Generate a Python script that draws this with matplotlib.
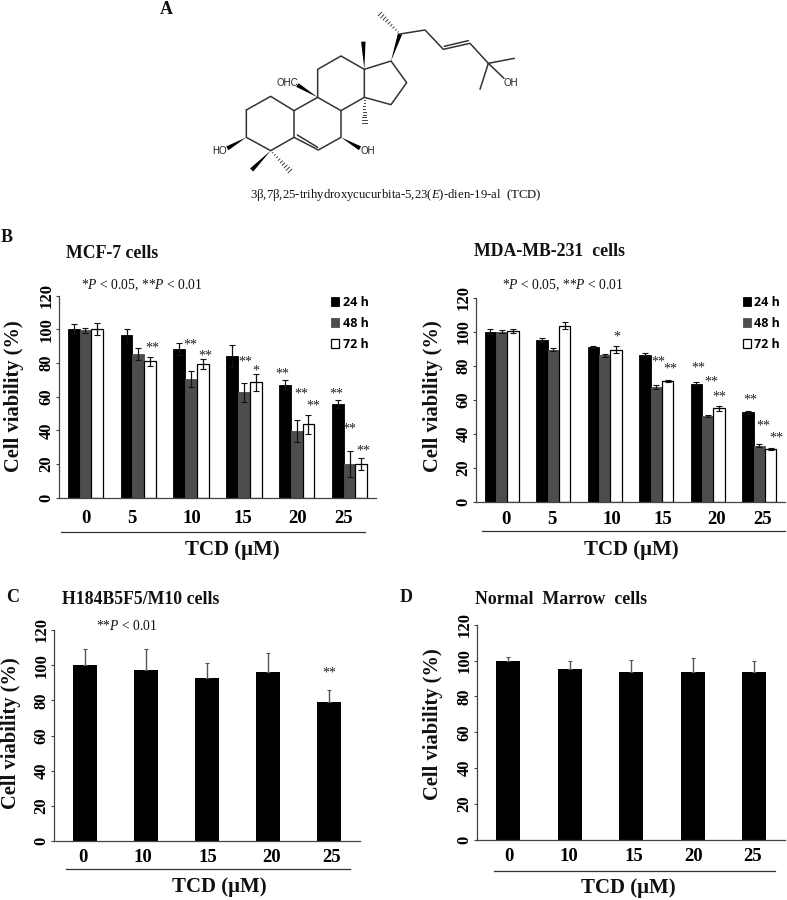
import numpy as np
import matplotlib
matplotlib.use("Agg")
import matplotlib.pyplot as plt
from matplotlib.patches import Polygon

plt.rcParams['font.family'] = ['Liberation Serif', 'DejaVu Serif']
plt.rcParams['mathtext.fontset'] = 'custom'
plt.rcParams['mathtext.rm'] = 'Liberation Serif'
plt.rcParams['mathtext.it'] = 'Liberation Serif:italic'

W, H = 787, 900

# panel B, MCF-7
mcf_24 = [100, 96.5, 88.5, 84, 67, 55.5]
mcf_48 = [99.5, 85.5, 70.5, 62.5, 39.5, 20]
mcf_72 = [100, 81, 79.5, 68.5, 43.5, 20]
mcf_24_err = [3, 4, 3.5, 6.5, 3, 2.5]
mcf_48_err = [1.5, 3.5, 4.5, 5.5, 6.5, 8]
mcf_72_err = [3.5, 2.5, 3, 5, 5.5, 3.5]
mcf_labels = ['0', '5', '10', '15', '20', '25']
mcf_label_x = [0.01, 0.88, 2.02, 2.98, 4.02, 4.89]
mcf_star_x = [1.27, 1.99, 2.27, 3.02, 3.23, 3.72, 4.08, 4.31, 4.74, 5.0, 5.26]
mcf_star_y = [89.7, 91.7, 85, 81.8, 76.2, 74.3, 62.6, 55.4, 62.6, 41.8, 28.7]
mcf_stars = ['**', '**', '**', '**', '*', '**', '**', '**', '**', '**', '**']

# panel B, MDA-MB-231
mda_24 = [100, 95, 91, 86.5, 69.5, 52.5]
mda_48 = [100, 89.5, 86, 67.5, 50.3, 33]
mda_72 = [100.3, 103.5, 89.5, 71.2, 55, 31]
mda_24_err = [1.5, 1, 0.3, 1, 1, 1]
mda_48_err = [1, 1, 1, 1, 0.5, 1]
mda_72_err = [1, 2, 2, 0.5, 1.5, 0.7]
mda_label_x = [0.08, 0.98, 2.14, 3.13, 4.18, 5.07]
mda_star_x = [2.24, 3.04, 3.27, 3.81, 4.06, 4.22, 4.82, 5.07, 5.34]
mda_star_y = [98, 83.3, 79, 79.8, 71.2, 62.4, 60.8, 45.7, 38.2]
mda_stars = ['*', '**', '**', '**', '**', '**', '**', '**', '**']

# panels C and D
short_labels = ['0', '10', '15', '20', '25']
h184_vals = [100, 97.5, 92.5, 96, 79]
h184_err = [9, 11.5, 8.5, 11, 7]
h184_label_x = [-0.03, 0.95, 2.02, 3.06, 4.04]
marrow_vals = [100, 95, 93.5, 93.5, 93.5]
marrow_err = [2, 5, 7, 8, 6]
marrow_label_x = [0.02, 0.99, 2.05, 3.01, 3.98]

fig = plt.figure(figsize=(W / 100, H / 100), dpi=100)

# overlay in pixel coordinates for free text, rules and the structure
bg = fig.add_axes([0, 0, 1, 1])
bg.set_xlim(0, W)
bg.set_ylim(H, 0)
bg.axis('off')


def make_axes(left, right, top, bottom, xpad):
    ax = fig.add_axes([left / W, 1 - bottom / H, (right - left) / W, (bottom - top) / H])
    ax.patch.set_alpha(0)
    ax.set_ylim(0, 120)
    ax.set_yticks(range(0, 121, 20))
    for s in ['top', 'right']:
        ax.spines[s].set_visible(False)
    for s in ['left', 'bottom']:
        ax.spines[s].set_color('#444444')
        ax.spines[s].set_linewidth(0.9)
    ax.tick_params(axis='y', length=2.5, width=0.8, color='#444444', pad=0.8, labelsize=12)
    ax.tick_params(axis='x', length=0, pad=xpad, labelsize=13.5)
    for t in ax.get_yticklabels():
        t.set_rotation(90)
        t.set_va('center')
        t.set_fontweight('bold')
    return ax


def star(ax, x, y, s):
    ax.annotate(s, (x, y), xytext=(0, -1.2), textcoords='offset points', ha='center', va='center',
                fontsize=10, color='#222222', annotation_clip=False)


def grouped(ax, s24, s48, s72, e24, e48, e72, labels, label_x, sx, sy, st, leg_x):
    ax.set_xlim(-0.5, 5.5)
    w = 0.222
    x = np.arange(len(s24))
    kw = dict(capsize=2.2, error_kw=dict(elinewidth=0.9, capthick=0.8, ecolor='#111111'))
    ax.bar(x - w, s24, w, yerr=e24, color='black', edgecolor='black', linewidth=0.6, label='24 h', **kw)
    ax.bar(x, s48, w, yerr=e48, color='#4d4d4d', edgecolor='#4d4d4d', linewidth=0.6, label='48 h', **kw)
    ax.bar(x + w, s72, w, yerr=e72, color='white', edgecolor='black', linewidth=0.9, label='72 h', **kw)
    ax.set_xticks(label_x, labels, fontweight='bold')
    for a, b, s in zip(sx, sy, st):
        star(ax, a, b, s)
    ax.legend(loc='upper left', bbox_to_anchor=(leg_x / W, 1 - 296 / H), bbox_transform=fig.transFigure,
              frameon=False, handlelength=0.65, handleheight=0.75, handletextpad=0.3, labelspacing=0.62,
              borderpad=0, borderaxespad=0,
              prop={'family': 'Open Sans', 'weight': 'bold', 'size': 9})


def single(ax, vals, errs, labels, label_x):
    ax.set_xlim(-0.5, 4.5)
    x = np.arange(len(vals))
    ax.bar(x, vals, 0.39, yerr=[[0] * len(errs), errs], color='black', capsize=1.6,
           error_kw=dict(elinewidth=1.0, capthick=0.8, ecolor='#555555'))
    ax.set_xticks(label_x, labels, fontweight='bold')


ax1 = make_axes(59, 376, 295.7, 497.7, 9)
grouped(ax1, mcf_24, mcf_48, mcf_72, mcf_24_err, mcf_48_err, mcf_72_err,
        mcf_labels, mcf_label_x, mcf_star_x, mcf_star_y, mcf_stars, 331)
ax2 = make_axes(476, 785, 297.7, 501.7, 6.5)
grouped(ax2, mda_24, mda_48, mda_72, mda_24_err, mda_48_err, mda_72_err,
        mcf_labels, mda_label_x, mda_star_x, mda_star_y, mda_stars, 742.5)
ax3 = make_axes(54, 360, 630, 841.3, 5.5)
single(ax3, h184_vals, h184_err, short_labels, h184_label_x)
star(ax3, 4, 96.5, '**')
ax4 = make_axes(477.3, 785, 624.7, 839.7, 6)
single(ax4, marrow_vals, marrow_err, short_labels, marrow_label_x)


def txt(x, y, s, size, bold=True, ha='left', rot=0, **kw):
    bg.text(x, y, s, fontsize=size, fontweight='bold' if bold else 'normal', ha=ha, va='center',
            rotation=rot, color='#111111', **kw)


# panel letters and titles
txt(160, 9, 'A', 13)
txt(1, 237, 'B', 13)
txt(6, 598, 'C', 13)
txt(400, 598, 'D', 13)
txt(65.5, 253, 'MCF-7 cells', 12.8)
txt(474, 252, 'MDA-MB-231  cells', 12.8)
txt(62, 600, 'H184B5F5/M10 cells', 12.8)
txt(475, 600, 'Normal  Marrow  cells', 12.8)

# p value notes
p_both = r'*$\mathit{P}$ < 0.05, **$\mathit{P}$ < 0.01'
txt(81, 285, p_both, 9.8, bold=False)
txt(502, 285.5, p_both, 9.8, bold=False)
txt(96.5, 626, r'**$\mathit{P}$ < 0.01', 9.8, bold=False)

# y labels
for x, y in [(14, 396), (433, 396), (11.5, 733), (433, 724)]:
    txt(x, y, 'Cell viability (%)', 14.8, ha='center', rot=90)

# rules and x titles
for x0, x1, y in [(61, 365, 531.7), (482, 785, 531), (66, 350, 869), (494, 775, 870.7)]:
    bg.plot([x0, x1], [y, y], color='#333333', lw=0.9)
for x, y in [(232, 550), (631, 550), (219, 887), (628, 888)]:
    txt(x, y, 'TCD (\u03bcM)', 15, ha='center')

# structure of TCD, points in 3x crop units of the top region
chain_a = [(199, 330), (272, 289), (342, 332), (342, 412), (272, 452), (199, 412), (199, 330)]
chain_b = [(342, 332), (413, 292), (483, 332), (483, 412), (415, 450), (342, 412)]
chain_c = [(413, 292), (413, 208), (483, 168), (553, 208), (553, 292), (483, 332)]
chain_d = [(553, 208), (633, 183), (680, 248), (633, 314), (553, 292)]
chain_side = [(660, 102), (735, 90), (790, 148), (870, 130), (925, 190), (1003, 175)]
extra_bonds = [[(925, 190), (900, 268)], [(925, 190), (972, 235)], [(352, 405), (413, 442)], [(793, 139), (865, 122)]]
wedges = [[(633, 183), (660, 102)], [(553, 208), (550, 125)], [(413, 292), (352, 255)],
          [(199, 412), (142, 445)], [(483, 412), (540, 445)], [(272, 452), (215, 510)]]
hashes = [[(660, 102), (600, 42)], [(553, 292), (553, 370)], [(272, 452), (330, 513)]]
atoms = [('OHC', 322, 250), ('HO', 120, 453), ('OH', 563, 453), ('OH', 991, 250)]


def mol(p):
    return 180 + p[0] / 3, p[1] / 3


for c in [chain_a, chain_b, chain_c, chain_d, chain_side] + extra_bonds:
    pts = np.array([mol(p) for p in c])
    bg.plot(pts[:, 0], pts[:, 1], color='#333333', lw=1.1, solid_capstyle='round')
for a, b in wedges:
    a, b = np.array(mol(a)), np.array(mol(b))
    d = b - a
    n = np.array([-d[1], d[0]]) / np.hypot(*d) * 2.2
    bg.add_patch(Polygon([a, b + n, b - n], closed=True, color='black', lw=0))
for a, b in hashes:
    a, b = np.array(mol(a)), np.array(mol(b))
    d = b - a
    n = np.array([-d[1], d[0]]) / np.hypot(*d)
    for f in np.linspace(0.1, 1, 9):
        c = a + d * f
        bg.plot(*zip(c - n * 2.6 * f, c + n * 2.6 * f), color='#222222', lw=0.6)
for s, x, y in atoms:
    bg.text(180 + x / 3, y / 3, s, fontsize=7, ha='center', va='center', family='Liberation Sans', color='#222222')
txt(396, 195, r'3β,7β,25-trihydroxycucurbita-5,23($\mathit{E}$)-dien-19-al  (TCD)', 9.2, bold=False, ha='center')

fig.savefig('out.png', dpi=100)
